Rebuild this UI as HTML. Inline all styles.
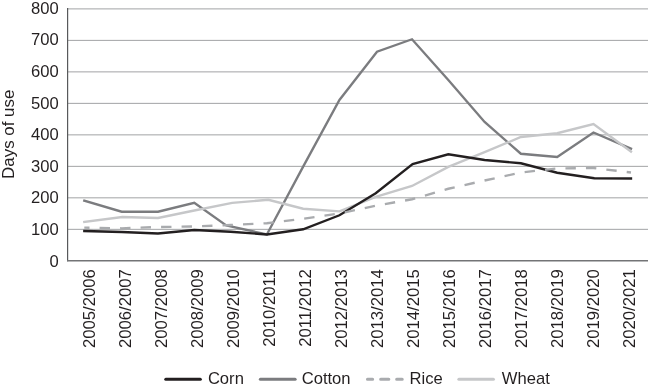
<!DOCTYPE html>
<html><head><meta charset="utf-8"><title>Days of use</title>
<style>
html,body{margin:0;padding:0;background:#fff}
svg{display:block}
text{font-family:"Liberation Sans",Arial,Helvetica,sans-serif;font-size:16.6px;fill:#231f20}
</style></head><body>
<svg width="648" height="388" viewBox="0 0 648 388">
<rect width="648" height="388" fill="#fff"/>
<g stroke="#a2a3a5" stroke-width="1" fill="none"><line x1="68" x2="648" y1="8.90" y2="8.90"/><line x1="68" x2="648" y1="40.39" y2="40.39"/><line x1="68" x2="648" y1="71.88" y2="71.88"/><line x1="68" x2="648" y1="103.37" y2="103.37"/><line x1="68" x2="648" y1="134.86" y2="134.86"/><line x1="68" x2="648" y1="166.35" y2="166.35"/><line x1="68" x2="648" y1="197.84" y2="197.84"/><line x1="68" x2="648" y1="229.33" y2="229.33"/></g>
<g fill="none" stroke-linejoin="miter" stroke-linecap="square">
<polyline stroke="#7b7c7f" stroke-width="2.35" points="84.30,200.60 121.70,211.75 157.99,211.75 194.28,202.75 226.25,225.40 266.86,234.50 303.15,166.60 339.44,100.00 377.00,51.75 412.02,39.25 448.31,80.00 484.60,122.00 520.89,153.75 557.18,157.00 593.47,132.50 631.00,148.60"/>
<polyline stroke="#c6c7c9" stroke-width="2.35" points="84.30,222.00 122.40,217.00 157.99,218.00 194.28,210.50 232.20,202.90 268.30,199.80 303.15,208.75 339.44,211.40 375.73,196.90 412.02,186.00 448.31,166.85 484.60,152.20 520.89,137.00 557.18,133.25 593.47,124.00 631.00,151.60"/>
<polyline stroke="#231f20" stroke-width="2.35" points="84.30,231.00 121.70,232.00 157.99,233.50 194.28,230.00 230.57,231.75 266.86,234.50 303.15,229.25 339.44,215.25 375.73,193.25 412.60,164.00 448.31,154.30 484.60,160.00 520.89,163.25 557.18,172.75 594.30,178.25 631.00,178.50"/>
<polyline stroke="#a9abae" stroke-width="2.35" stroke-linecap="butt" stroke-dasharray="10.4 10.1" stroke-dashoffset="5.2" points="84.30,227.70 121.70,228.30 157.99,227.00 194.28,226.50 230.57,225.00 266.86,223.25 303.15,218.75 339.44,213.50 375.73,205.75 412.02,199.25 448.31,188.75 484.60,180.50 520.89,172.50 557.18,168.50 593.47,168.00 631.00,172.50"/>
</g>
<line x1="67.6" x2="67.6" y1="8.1" y2="261.3" stroke="#58595b" stroke-width="1.2"/>
<line x1="67" x2="648" y1="260.8" y2="260.8" stroke="#737476" stroke-width="1.6"/>
<g><text x="58.7" y="13.90" text-anchor="end">800</text><text x="58.7" y="45.49" text-anchor="end">700</text><text x="58.7" y="77.08" text-anchor="end">600</text><text x="58.7" y="108.67" text-anchor="end">500</text><text x="58.7" y="140.26" text-anchor="end">400</text><text x="58.7" y="171.85" text-anchor="end">300</text><text x="58.7" y="203.44" text-anchor="end">200</text><text x="58.7" y="235.03" text-anchor="end">100</text><text x="58.7" y="266.62" text-anchor="end">0</text></g>
<text transform="translate(13.7,134.3) rotate(-90)" text-anchor="middle" style="font-size:16.9px">Days of use</text>
<g><text transform="translate(95.00,269.2) rotate(-90)" text-anchor="end" style="font-size:16.7px">2005/2006</text><text transform="translate(131.03,269.2) rotate(-90)" text-anchor="end" style="font-size:16.7px">2006/2007</text><text transform="translate(167.06,269.2) rotate(-90)" text-anchor="end" style="font-size:16.7px">2007/2008</text><text transform="translate(203.09,269.2) rotate(-90)" text-anchor="end" style="font-size:16.7px">2008/2009</text><text transform="translate(239.12,269.2) rotate(-90)" text-anchor="end" style="font-size:16.7px">2009/2010</text><text transform="translate(275.15,269.2) rotate(-90)" text-anchor="end" style="font-size:16.7px">2010/2011</text><text transform="translate(311.18,269.2) rotate(-90)" text-anchor="end" style="font-size:16.7px">2011/2012</text><text transform="translate(347.21,269.2) rotate(-90)" text-anchor="end" style="font-size:16.7px">2012/2013</text><text transform="translate(383.24,269.2) rotate(-90)" text-anchor="end" style="font-size:16.7px">2013/2014</text><text transform="translate(419.27,269.2) rotate(-90)" text-anchor="end" style="font-size:16.7px">2014/2015</text><text transform="translate(455.30,269.2) rotate(-90)" text-anchor="end" style="font-size:16.7px">2015/2016</text><text transform="translate(491.33,269.2) rotate(-90)" text-anchor="end" style="font-size:16.7px">2016/2017</text><text transform="translate(527.36,269.2) rotate(-90)" text-anchor="end" style="font-size:16.7px">2017/2018</text><text transform="translate(563.39,269.2) rotate(-90)" text-anchor="end" style="font-size:16.7px">2018/2019</text><text transform="translate(599.42,269.2) rotate(-90)" text-anchor="end" style="font-size:16.7px">2019/2020</text><text transform="translate(635.45,269.2) rotate(-90)" text-anchor="end" style="font-size:16.7px">2020/2021</text></g>
<g fill="none" stroke-width="3.1" stroke-linecap="round">
<line x1="165.8" x2="200.3" y1="379.2" y2="379.2" stroke="#231f20"/>
<line x1="260.4" x2="295.1" y1="379.2" y2="379.2" stroke="#7b7c7f"/>
<path d="M367.5 379.2H372.6M380.7 379.2H388.8M396.7 379.2H402.2" stroke="#a9abae"/>
<line x1="458.9" x2="493.4" y1="379.2" y2="379.2" stroke="#c6c7c9"/>
</g>
<text x="207.9" y="384.3">Corn</text>
<text x="301.7" y="384.3">Cotton</text>
<text x="409.6" y="384.3">Rice</text>
<text x="501.8" y="384.3">Wheat</text>
</svg>
</body></html>
